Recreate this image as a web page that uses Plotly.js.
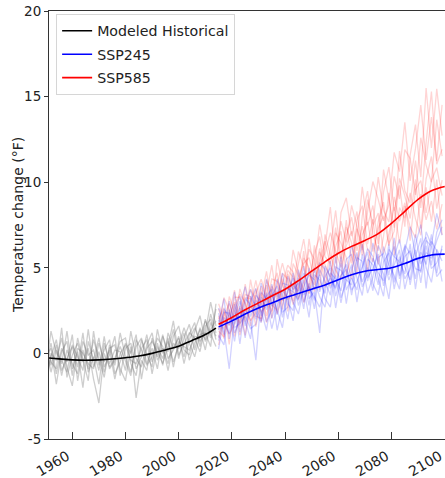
<!DOCTYPE html>
<html><head><meta charset="utf-8">
<script src="https://cdn.plot.ly/plotly-3.0.1.min.js"></script>
<style>html,body{margin:0;padding:0;background:#fff}#c{width:445px;height:478px}</style>
</head><body><div id="c"></div>
<script>
// ---- data ----
var histMeanYears = [1950,1955,1960,1965,1970,1975,1980,1985,1990,1995,2000,2005,2010,2014];
var histMean = [-0.25,-0.32,-0.38,-0.40,-0.38,-0.33,-0.25,-0.15,0.0,0.2,0.42,0.75,1.1,1.48];
var futMeanYears = [2015,2020,2025,2030,2035,2040,2045,2050,2055,2060,2065,2070,2075,2080,2085,2090,2095,2100];
var ssp245Mean = [1.55,1.9,2.3,2.65,2.95,3.25,3.5,3.75,4.0,4.3,4.6,4.8,4.9,5.0,5.25,5.55,5.75,5.8];
var ssp585Mean = [1.7,2.1,2.55,2.95,3.35,3.75,4.25,4.8,5.35,5.85,6.25,6.6,7.0,7.6,8.3,9.0,9.5,9.75];

// ensemble members (every 2 years): historical 1950..2014, future 2015..2099
var hist1 = [-0.8,0.6,-1.2,0.3,-0.5,1.1,-1.6,0.2,-0.9,0.8,-0.3,-1.4,0.5,-0.7,1.2,-0.2,-1.1,0.4,0.9,-0.6,0.3,-0.9,1.0,0.1,1.4,-0.3,0.9,1.7,0.2,1.5,0.8,2.3,1.2];
var hist2 = [0.5,-1.1,0.2,-0.6,1.3,-0.9,0.1,-2.0,0.7,-0.4,0.9,-0.8,-0.1,1.0,-1.3,0.3,0.6,-0.9,-0.2,1.1,-0.5,0.6,-0.7,1.2,0.3,0.9,-0.2,1.1,1.8,0.4,2.0,0.9,2.6];
var hist3 = [-1.5,-0.2,0.8,-1.0,-0.3,0.4,-0.8,1.2,-1.1,-0.2,-1.8,0.6,-0.6,0.2,0.1,-1.0,1.3,-0.3,-0.8,0.5,1.2,-0.4,0.3,-0.6,1.0,1.6,0.2,-0.1,1.3,2.2,0.7,1.4,1.9];
var hist4 = [0.9,-0.5,-0.9,1.5,-1.4,-0.1,0.6,-0.5,0.3,-1.5,-2.9,0.0,-0.8,-0.3,0.7,0.9,-0.6,-1.3,0.8,-0.1,-0.8,1.4,0.0,0.7,-0.5,0.5,1.5,0.6,-0.2,1.1,1.2,3.0,1.6];
var hist5 = [-0.2,0.3,-1.8,0.1,0.7,-1.3,0.9,-0.3,-1.6,1.3,-0.7,0.2,0.8,-1.2,-0.5,0.6,0.0,1.1,-1.5,0.3,0.7,0.1,-0.6,0.4,1.9,-0.1,0.6,1.2,0.9,0.1,1.6,2.0,0.8];
var hist6 = [-1.0,1.3,0.0,-0.4,-1.1,0.5,-0.2,-1.0,1.4,-0.8,0.1,-1.1,0.3,0.5,-0.9,-1.6,0.4,-2.6,-0.4,-1.0,0.9,-0.2,1.1,-0.3,0.2,1.0,-0.6,0.8,1.5,0.7,1.2,0.4,2.9];
var hist7 = [0.2,-0.7,0.5,-1.3,0.2,-0.6,-1.2,0.7,-0.1,0.2,-1.0,1.0,-0.9,-0.4,0.4,-0.5,-1.3,0.8,0.2,-0.7,-0.2,0.9,0.4,-1.0,0.6,0.3,1.2,-0.4,0.6,1.4,0.2,1.8,1.0];
var hist8 = [-2.2,0.0,-0.4,0.9,-0.8,-1.9,0.3,0.0,-0.6,-0.9,0.6,-0.5,0.2,-1.5,0.0,0.5,-0.4,-0.6,0.3,0.8,-1.2,0.4,-0.3,0.9,-0.8,0.7,0.4,0.2,1.0,0.9,1.9,1.1,0.4];

var b245_1 = [2.35,1.1,3.05,1.7,2.65,0.9,3.35,2.7,1.9,4.35,2.75,3.65,2.1,3.6,4.4,2.8,3.8,2.1,4.6,4.3,3.5,5.4,3.35,4.55,5.2,3.4,5.2,6.38,4.42,4.96,5.8,3.94,5.28,6.25,4.55,6.05,7.4,5.75,4.72,7.1,6.35,8.18,6.9];
var b245_2 = [0.25,2.1,1.65,3.6,1.25,2.6,1.95,-0.4,3.3,2.55,4.05,2.25,3.7,3.2,1.9,4.4,3.0,4.1,2.6,4.9,4.2,3.4,5.65,3.25,4.2,5.2,3.0,4.98,5.92,4.06,3.4,5.34,5.88,3.75,5.35,4.65,6.4,3.75,5.92,5.2,6.95,4.68,6.3];
var b245_3 = [1.75,3.2,0.85,2.5,3.35,1.9,0.85,3.4,3.0,1.85,2.55,4.35,3.4,2.0,4.0,3.6,5.1,3.2,3.6,1.2,5.1,4.5,3.85,5.25,2.9,4.9,5.9,3.88,4.62,6.46,5.3,4.64,3.18,5.65,6.65,5.05,4.3,6.35,7.52,5.0,4.15,6.08,5.4];
var b245_4 = [1.05,0.5,2.55,1.2,1.95,3.2,2.85,2.0,4.1,3.05,1.45,2.75,4.1,4.0,3.0,2.3,3.9,4.6,4.3,3.3,2.7,4.7,4.35,3.65,5.5,5.8,4.4,3.38,5.52,5.16,4.0,6.24,5.18,4.55,3.75,6.35,5.8,4.95,4.82,6.6,6.25,4.48,4.9];
var b245_5 = [2.65,1.8,1.15,2.9,0.55,2.9,3.75,2.4,1.8,3.35,3.75,1.35,2.8,4.5,3.7,4.1,2.6,5.0,3.7,4.6,3.2,2.7,5.05,4.85,4.3,4.0,5.6,5.38,3.52,4.46,6.3,5.54,4.28,5.15,6.05,3.75,5.1,6.95,5.22,5.9,5.55,6.58,7.4];
var b245_6 = [0.75,2.6,2.15,0.7,2.75,3.9,2.15,3.1,2.5,1.35,3.35,3.95,2.4,2.7,4.7,3.2,4.3,2.8,5.0,3.6,4.5,5.0,2.65,4.55,4.9,3.7,4.2,5.08,6.12,5.66,4.4,3.34,6.08,5.65,5.35,6.25,4.0,5.65,6.72,3.8,6.55,5.98,4.2];
var b245_7 = [1.95,1.4,-0.9,2.2,3.05,1.6,3.05,3.8,2.2,3.55,2.05,3.15,4.7,2.9,2.5,4.9,3.4,3.9,3.1,5.3,4.9,3.8,4.55,2.95,4.6,6.3,5.3,4.18,5.02,3.66,5.6,5.84,4.58,6.75,4.35,5.65,6.0,4.35,6.22,6.8,5.15,7.08,7.8];
var b245_8 = [1.35,2.4,2.35,1.5,1.75,2.2,1.45,1.7,3.6,3.15,3.45,2.55,1.5,3.8,3.6,3.1,4.7,3.8,3.3,2.7,3.9,4.4,3.75,5.65,3.7,4.4,3.7,5.78,4.22,5.56,4.7,4.24,6.38,4.15,5.65,4.35,4.9,6.05,4.12,6.3,4.95,5.28,6.1];

var r585_1 = [2.2,0.86,3.32,2.39,1.77,4.05,2.41,3.77,1.83,3.59,5.15,3.01,4.37,2.45,5.25,4.55,3.67,6.69,4.71,6.13,3.85,6.15,8.35,5.53,7.39,6.45,4.59,8.03,9.48,6.94,6.0,9.44,10.88,8.34,9.82,7.4,11.58,13.36,10.3,15.5,12.0,15.45,12.72];
var r585_2 = [0.9,2.46,1.62,3.29,3.27,1.85,4.31,2.67,3.53,2.19,3.65,4.71,2.57,4.65,3.75,5.95,5.07,3.49,6.31,4.53,6.25,8.55,5.25,7.73,6.49,8.65,7.39,5.73,8.28,10.04,9.0,7.74,8.68,11.74,10.62,13.5,10.08,11.96,14.5,11.3,13.8,11.25,14.52];
var r585_3 = [2.9,2.06,1.12,1.69,3.77,2.85,1.61,3.47,4.33,3.29,2.45,4.01,5.27,4.05,2.85,3.85,5.58,4.99,3.61,5.93,5.15,4.45,6.25,7.13,4.59,5.65,7.29,6.33,4.88,7.44,8.2,5.84,6.98,8.54,6.42,8.6,7.38,6.76,9.3,7.8,8.9,7.25,8.72];
var r585_4 = [1.4,3.26,2.52,0.99,2.27,3.45,3.31,1.57,3.23,4.79,2.85,2.51,4.07,5.15,4.75,3.15,4.17,6.09,5.51,3.73,6.95,5.75,4.85,4.33,6.89,7.95,5.99,7.43,6.08,5.34,7.7,8.84,6.38,7.14,10.22,9.2,7.88,10.16,7.3,10.2,11.5,8.45,10.12];
var r585_5 = [2.6,1.46,2.22,2.99,1.07,2.35,3.71,3.17,2.43,2.79,4.35,4.21,3.07,3.55,6.05,4.75,2.97,4.09,5.81,6.83,4.55,3.95,7.05,6.43,5.59,4.35,7.79,8.63,6.38,7.84,5.2,6.84,9.38,5.74,8.52,7.9,9.38,7.86,6.9,9.7,7.7,10.15,6.92];
var r585_6 = [0.5,2.16,2.92,1.99,2.77,1.05,2.91,4.27,2.73,3.99,2.05,5.51,3.97,3.15,3.55,5.25,6.67,4.59,4.01,5.43,6.55,5.15,4.45,8.23,9.09,6.85,8.29,6.03,8.98,7.54,10.3,8.34,7.68,10.34,9.02,11.9,11.38,9.26,12.6,11.0,10.0,13.65,11.52];
var r585_7 = [2.0,2.66,0.52,2.79,3.47,2.95,1.91,2.37,3.93,1.79,3.95,3.31,4.67,4.35,3.05,4.45,5.27,5.59,4.31,5.23,5.85,7.05,5.95,5.03,6.29,7.15,5.39,6.93,7.68,5.94,7.3,8.04,6.28,9.14,7.72,8.8,6.58,9.56,10.1,8.2,10.1,10.85,9.22];
var r585_8 = [1.3,0.96,2.42,3.69,1.57,3.25,3.21,2.17,2.03,4.29,3.55,2.31,3.27,4.85,4.45,3.65,5.97,3.49,5.01,7.53,5.65,5.25,7.35,5.23,7.79,5.25,6.59,9.73,7.48,8.64,6.4,10.74,8.98,7.34,11.82,9.5,8.78,11.26,8.5,12.3,15.3,11.05,11.92];

var xTicks = [1960,1980,2000,2020,2040,2060,2080,2100];
var yTicks = [-5,0,5,10,15,20];
var labels = ['Modeled Historical','SSP245','SSP585'];
var yTitle = 'Temperature change (°F)';

// ---- build ----
var histYears = []; for (var y = 1950; y <= 2014; y += 2) histYears.push(y);
var futYears = []; for (var y2 = 2015; y2 <= 2099; y2 += 2) futYears.push(y2);

var traces = [];
function member(x, yv, color) {
  traces.push({x: x, y: yv, type: 'scatter', mode: 'lines', showlegend: false, hoverinfo: 'skip',
    line: {color: color, width: 1.3}});
}
[hist1,hist2,hist3,hist4,hist5,hist6,hist7,hist8].forEach(function(s){ member(histYears, s, 'rgba(120,120,120,0.36)'); });
[r585_1,r585_2,r585_3,r585_4,r585_5,r585_6,r585_7,r585_8].forEach(function(s){ member(futYears, s, 'rgba(255,0,0,0.17)'); });
[b245_1,b245_2,b245_3,b245_4,b245_5,b245_6,b245_7,b245_8].forEach(function(s){ member(futYears, s, 'rgba(0,0,255,0.18)'); });

traces.push({x: histMeanYears, y: histMean, type: 'scatter', mode: 'lines', name: labels[0],
  legendrank: 1, legendgroup: 'g1', line: {color: '#000000', width: 1.6, shape: 'spline'}});
traces.push({x: futMeanYears, y: ssp585Mean, type: 'scatter', mode: 'lines', name: labels[2],
  legendrank: 3, legendgroup: 'g3', line: {color: '#ff0000', width: 1.6, shape: 'spline'}});
traces.push({x: futMeanYears, y: ssp245Mean, type: 'scatter', mode: 'lines', name: labels[1],
  legendrank: 2, legendgroup: 'g2', line: {color: '#0000ff', width: 1.6, shape: 'spline'}});

var font = 'DejaVu Sans, sans-serif';
var layout = {
  width: 445, height: 478,
  margin: {l: 49, r: 0, t: 11, b: 39},
  paper_bgcolor: '#fff', plot_bgcolor: '#fff',
  font: {family: font, size: 13.5, color: '#222'},
  showlegend: true,
  legend: {x: 0.018, y: 0.993, xanchor: 'left', yanchor: 'top', traceorder: 'grouped', tracegroupgap: 2,
    bgcolor: 'rgba(255,255,255,0.85)', bordercolor: '#d6d6d6', borderwidth: 1,
    font: {family: font, size: 14.2, color: '#222'}},
  xaxis: {range: [1951.25, 2100.1], tickvals: xTicks, ticktext: xTicks.map(String),
    tickangle: -30, ticklabeloverflow: 'allow', ticklabelshift: -5, ticklabelstandoff: 3,
    showgrid: false, zeroline: false, showline: true, mirror: true, linecolor: '#333', linewidth: 1,
    ticks: 'inside', ticklen: 7, tickwidth: 1, tickcolor: '#333', tickfont: {family: font, size: 14, color: '#222'}},
  yaxis: {range: [-5, 20], tickvals: yTicks, ticktext: yTicks.map(String),
    showgrid: false, zeroline: false, showline: true, linecolor: '#333', linewidth: 1,
    ticks: 'outside', ticklen: 4, tickwidth: 1, tickcolor: '#333', tickfont: {family: font, size: 13.5, color: '#222'}},
  annotations: [{text: yTitle, xref: 'paper', yref: 'paper', x: -0.0785, y: 0.5, xanchor: 'center', yanchor: 'middle',
    textangle: -90, showarrow: false, font: {family: font, size: 14, color: '#222'}}]
};
Plotly.newPlot('c', traces, layout, {displayModeBar: false, staticPlot: true});
</script></body></html>
